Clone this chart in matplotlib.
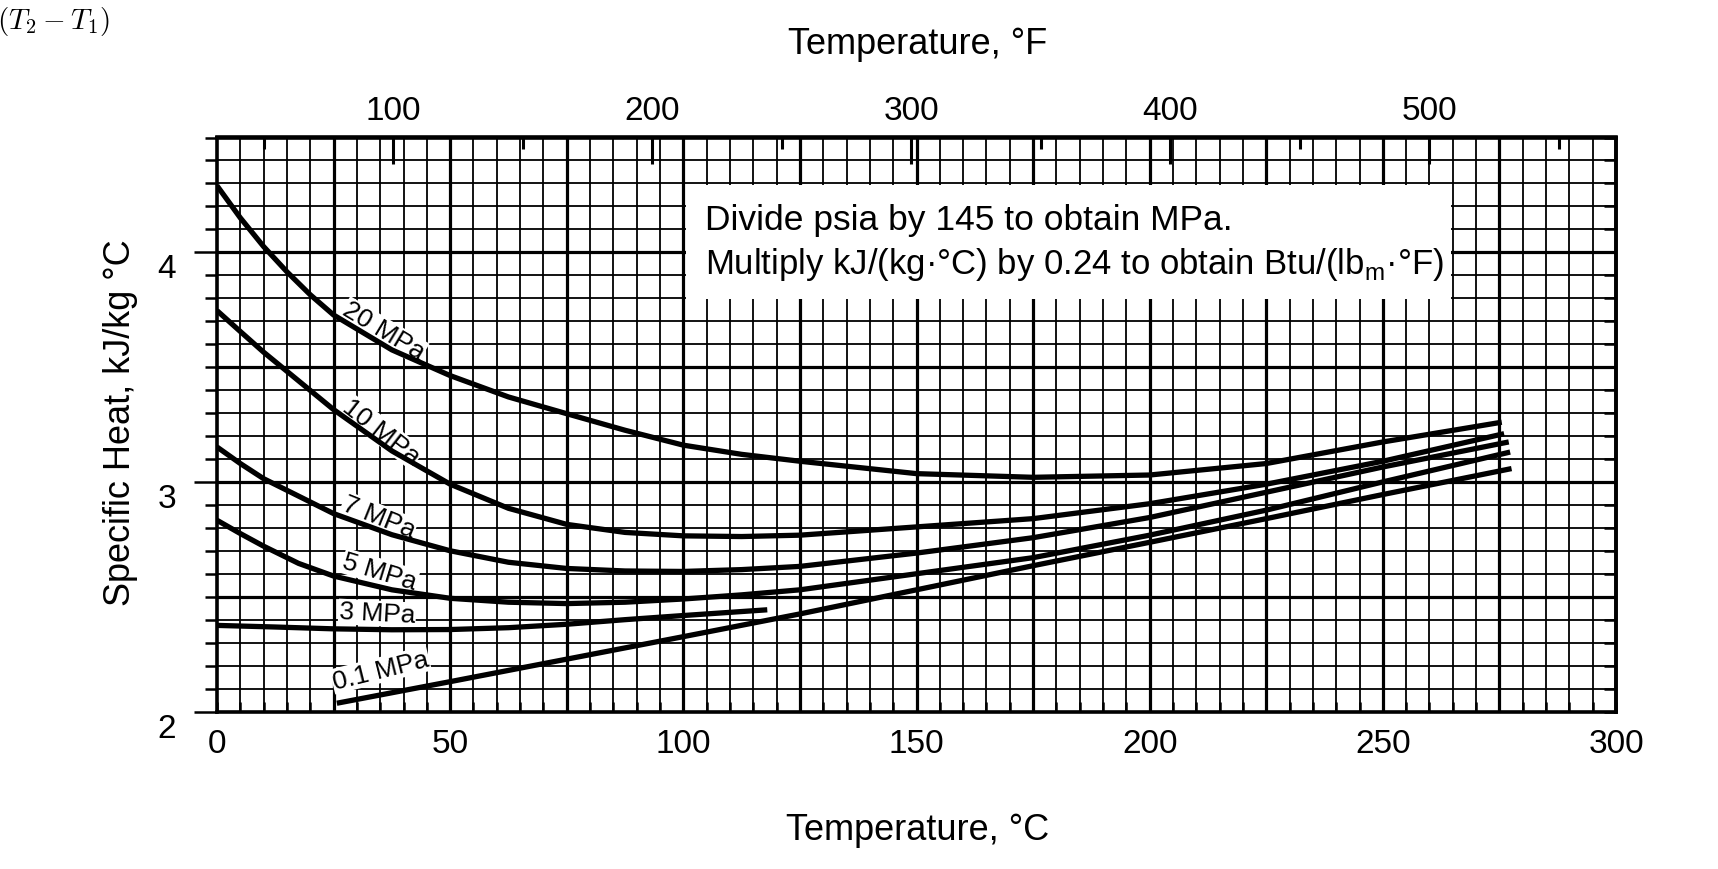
import numpy as np
import matplotlib
matplotlib.use("Agg")
import matplotlib.pyplot as plt
from matplotlib.ticker import MultipleLocator, FixedLocator
from matplotlib.transforms import ScaledTranslation
from matplotlib.patches import Rectangle

plt.rcParams['font.family'] = ['Liberation Sans', 'DejaVu Sans']

# Значения: температура, °C и теплоёмкость, kJ/(kg·°C)
t_20 = [0, 5, 10, 15, 20, 25, 37.5, 50, 62.5, 75, 87.5, 100, 112.5, 125, 150, 175, 200, 225, 250, 275.5]
cp_20 = [4.29, 4.15, 4.025, 3.915, 3.815, 3.727, 3.575, 3.463, 3.37, 3.297, 3.225, 3.16, 3.12, 3.09, 3.036, 3.02, 3.03, 3.08, 3.174, 3.26]

t_10 = [0, 5, 10, 17.5, 25, 37.5, 50, 62.5, 75, 87.5, 100, 112.5, 125, 150, 175, 200, 225, 250, 276]
cp_10 = [3.746, 3.655, 3.565, 3.44, 3.315, 3.135, 2.99, 2.885, 2.815, 2.78, 2.765, 2.762, 2.768, 2.804, 2.84, 2.905, 2.99, 3.09, 3.21]

t_7 = [0, 5, 10, 25, 37.5, 50, 62.5, 75, 87.5, 100, 112.5, 125, 150, 175, 200, 225, 250, 277]
cp_7 = [3.152, 3.08, 3.014, 2.862, 2.77, 2.70, 2.65, 2.623, 2.612, 2.61, 2.618, 2.632, 2.69, 2.757, 2.845, 2.955, 3.065, 3.174]

t_5 = [0, 5, 10, 17.5, 25, 37.5, 50, 62.5, 75, 87.5, 100, 112.5, 125, 150, 175, 200, 225, 250, 277.3]
cp_5 = [2.833, 2.775, 2.72, 2.645, 2.59, 2.53, 2.493, 2.476, 2.47, 2.476, 2.49, 2.508, 2.53, 2.60, 2.67, 2.768, 2.877, 3.0, 3.13]

t_3 = [0, 12.5, 25, 37.5, 50, 62.5, 75, 87.5, 100, 118]
cp_3 = [2.375, 2.368, 2.36, 2.356, 2.357, 2.365, 2.38, 2.40, 2.418, 2.443]

t_01 = [25.7, 50, 75, 100, 125, 150, 175, 200, 225, 250, 277.6]
cp_01 = [2.036, 2.13, 2.228, 2.326, 2.425, 2.53, 2.635, 2.737, 2.84, 2.945, 3.058]

curve_names = ['20 MPa', '10 MPa', '7 MPa', '5 MPa', '3 MPa', '0.1 MPa']
curves = [(t_20, cp_20), (t_10, cp_10), (t_7, cp_7), (t_5, cp_5), (t_3, cp_3), (t_01, cp_01)]

c_ticks = [0, 50, 100, 150, 200, 250, 300]
cp_ticks = [2, 3, 4]
f_major = [100, 200, 300, 400, 500]
f_minor = [50, 150, 250, 350, 450, 550]

# угол подписи (градусы) и сдвиг над линией (pt)
label_angle = [-31, -38, -22, -17, -3, 14]
label_lift = [0, 0, 1, 4, 4, 7]
label_t = 26

W, H, DPI = 1718, 870, 100
fig = plt.figure(figsize=(W / DPI, H / DPI), dpi=DPI)
ax = fig.add_axes([217 / W, 1 - 712.5 / H, (1616 - 217) / W, (712.5 - 138.5) / H])
ax.set_xlim(0, 300)
ax.set_ylim(2, 4.5)

# миллиметровка
for t in np.arange(5, 300, 5):
    heavy = t % 25 == 0
    ax.axvline(t, color='black', lw=2.3 if heavy else 1.3, zorder=1)
for k in range(21, 45):
    heavy = k % 5 == 0
    ax.axhline(k / 10, color='black', lw=2.3 if heavy else 1.3, zorder=1)

# кривые
for (t, cp) in curves:
    ax.plot(t, cp, color='black', lw=3.8, solid_joinstyle='round',
            solid_capstyle='butt', zorder=5)

# подписи кривых
for (t, cp), name, ang, lift in zip(curves, curve_names, label_angle, label_lift):
    y0 = np.interp(label_t, t, cp)
    a = np.radians(ang)
    ax.annotate(name, xy=(label_t, y0),
                xytext=(-np.sin(a) * lift, np.cos(a) * lift), textcoords='offset points',
                rotation=ang, rotation_mode='anchor', ha='left', va='bottom',
                fontsize=19, zorder=4,
                bbox=dict(facecolor='white', edgecolor='none', pad=0.5))

# поясняющая надпись
ax.add_patch(Rectangle((100.6, 3.795), 164.0, 0.5, facecolor='white',
                       edgecolor='none', zorder=2))
ax.text(104.7, 4.101, 'Divide psia by 145 to obtain MPa.', fontsize=25.5,
        va='baseline', ha='left', zorder=3)
ax.text(104.7, 3.91, r'Multiply kJ/(kg·°C) by 0.24 to obtain Btu/(lb$_\mathregular{m}$·°F)',
        fontsize=25, va='baseline', ha='left', zorder=3)

# оси
for s in ax.spines.values():
    s.set_linewidth(2.6)
    s.set_zorder(6)

ax.xaxis.set_major_locator(FixedLocator(c_ticks))
ax.xaxis.set_minor_locator(MultipleLocator(5))
ax.tick_params(axis='x', which='both', direction='in', length=7, width=1.8,
               labelsize=24, pad=12)
ax.yaxis.set_major_locator(FixedLocator(cp_ticks))
ax.yaxis.set_minor_locator(MultipleLocator(0.1))
ax.tick_params(axis='y', which='major', direction='out', length=16.5, width=1.8,
               labelsize=24, pad=13)
ax.tick_params(axis='y', which='minor', direction='out', length=8.5, width=1.8)

shift = ScaledTranslation(0, -13 / DPI, fig.dpi_scale_trans)
for lbl in ax.get_yticklabels():
    lbl.set_transform(lbl.get_transform() + shift)

sec_r = ax.secondary_yaxis('right')
sec_r.yaxis.set_major_locator(MultipleLocator(0.1))
sec_r.tick_params(direction='in', length=8.5, width=1.8, labelright=False)
sec_r.spines['right'].set_linewidth(2.6)


def c2f(c):
    return c * 9 / 5 + 32


def f2c(f):
    return (f - 32) * 5 / 9


sec_t = ax.secondary_xaxis('top', functions=(c2f, f2c))
sec_t.xaxis.set_major_locator(FixedLocator(f_major))
sec_t.xaxis.set_minor_locator(FixedLocator(f_minor))
sec_t.tick_params(which='major', direction='in', length=19.5, width=2.2,
                  labelsize=24, pad=8.5)
sec_t.tick_params(which='minor', direction='in', length=8.5, width=2.2)
sec_t.spines['top'].set_linewidth(2.6)

fig.text(918 / W, 1 - 44 / H, 'Temperature, °F', fontsize=26, ha='center', va='center')
fig.text(918 / W, 1 - 830.5 / H, 'Temperature, °C', fontsize=26, ha='center', va='center')
fig.text(121 / W, 1 - 423 / H, 'Specific Heat, kJ/kg °C', fontsize=26,
         rotation=90, ha='center', va='center')

# обрывок формулы из текста страницы
fig.text(-3 / W, 1 - 22 / H, r'$(T_2-T_1)$', fontsize=21, math_fontfamily='cm',
         ha='left', va='center')

fig.savefig('out.png', dpi=DPI, facecolor='white')
